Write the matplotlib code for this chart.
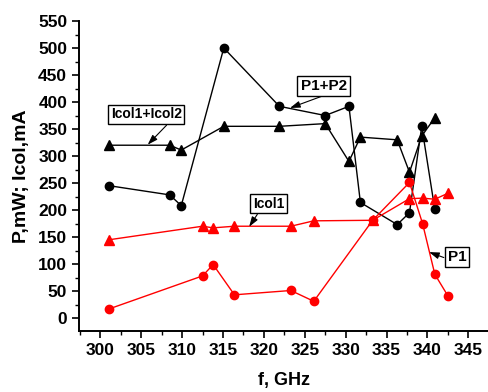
import matplotlib
matplotlib.use('Agg')
import matplotlib.pyplot as plt
import matplotlib.ticker as ticker

plt.rcParams['font.family'] = ['Liberation Sans', 'DejaVu Sans']
plt.rcParams['font.weight'] = 'bold'

# P1+P2 (black circles)
f_p12 = [301.1, 308.5, 309.9, 315.1, 321.9, 327.5, 330.4, 331.8, 336.3, 337.8, 339.3, 340.9]
p12 = [245, 228, 208, 500, 392, 375, 392, 214, 173, 195, 355, 201]

# Icol1+Icol2 (black triangles)
f_i12 = [301.1, 308.5, 309.9, 315.1, 321.9, 327.5, 330.4, 331.8, 336.3, 337.8, 339.3, 340.9]
i12 = [320, 320, 311, 355, 355, 360, 290, 335, 330, 270, 337, 371]

# P1 (red circles)
f_p1 = [301.1, 312.5, 313.8, 316.4, 323.3, 326.1, 333.3, 337.8, 339.4, 340.9, 342.5]
p1 = [17, 78, 99, 43, 51, 31, 181, 251, 175, 81, 41]

# Icol1 (red triangles)
f_i1 = [301.1, 312.5, 313.8, 316.4, 323.3, 326.1, 333.3, 337.8, 339.4, 340.9, 342.5]
i1 = [145, 170, 167, 170, 170, 180, 181, 221, 222, 220, 231]

# labels: text, box centre, arrow start, arrow tip
labels = ['Icol1+Icol2', 'P1+P2', 'Icol1', 'P1']
label_pos = [(305.6, 377), (327.3, 430), (320.6, 212), (343.6, 113)]
arrow_from = [(308.1, 357), (327.5, 413), (319.2, 192), (342.0, 112)]
arrow_to = [(305.8, 321), (323.2, 389), (318.2, 169), (340.2, 122)]
label_size = [10, 11, 10, 11]

fig = plt.figure(figsize=(4.88, 3.92), dpi=100)
ax = fig.add_axes([79/488, 1 - 331/392, 1 - 79/488, (331 - 21)/392])

ax.plot(f_p12, p12, color='black', lw=1, marker='o', ms=6)
ax.plot(f_i12, i12, color='black', lw=1, marker='^', ms=7)
ax.plot(f_p1, p1, color='red', lw=1, marker='o', ms=6)
ax.plot(f_i1, i1, color='red', lw=1, marker='^', ms=7)

ax.set_xlim(297.4, 347.4)
ax.set_ylim(-24, 550)
ax.xaxis.set_major_locator(ticker.MultipleLocator(5))
ax.xaxis.set_minor_locator(ticker.MultipleLocator(2.5))
ax.yaxis.set_major_locator(ticker.MultipleLocator(50))
ax.yaxis.set_minor_locator(ticker.MultipleLocator(25))
ax.tick_params(which='major', direction='out', length=5, width=1.2, labelsize=12.5)
ax.tick_params(which='minor', direction='out', length=3, width=1)
for s in ['top', 'right']:
    ax.spines[s].set_visible(False)
for s in ['left', 'bottom']:
    ax.spines[s].set_linewidth(1.4)

ax.set_xlabel('f, GHz', fontsize=13, fontweight='bold', labelpad=10)
ax.set_ylabel('P,mW; Icol,mA', fontsize=14, fontweight='bold', labelpad=6)

box = dict(boxstyle='square,pad=0.2', fc='white', ec='black', lw=1)
for txt, pos, a0, a1, fs in zip(labels, label_pos, arrow_from, arrow_to, label_size):
    ax.text(pos[0], pos[1], txt, fontsize=fs, fontweight='bold',
            ha='center', va='center', bbox=box, zorder=5)
    ax.annotate('', xy=a1, xytext=a0,
                arrowprops=dict(arrowstyle='-|>,head_length=0.6,head_width=0.2',
                                color='black', lw=0.8, mutation_scale=10,
                                shrinkA=0, shrinkB=0))

fig.savefig('out.png', dpi=100)
